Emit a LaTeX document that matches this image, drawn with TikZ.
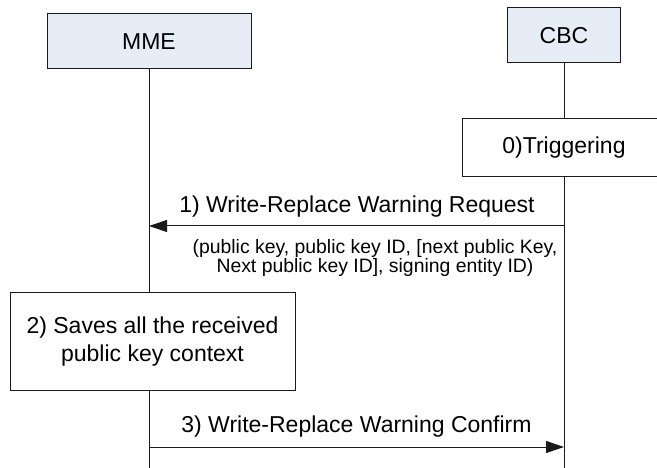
\documentclass[tikz,border=0pt]{standalone}
\usepackage{fontspec}
\setmainfont{Liberation Sans}
\usetikzlibrary{arrows.meta}
\definecolor{entfill}{HTML}{E7EDF7}
\definecolor{linecol}{HTML}{1A1A1A}
\begin{document}
\begin{tikzpicture}[x=1pt,y=-1pt,
  bigfont/.style={font=\fontsize{23}{28}\selectfont},
  smallfont/.style={font=\fontsize{19.4}{19.8}\selectfont},
  entity/.style={draw=linecol,line width=1pt,fill=entfill,inner sep=0pt,bigfont},
  stepbox/.style={draw=linecol,line width=1pt,fill=white,inner sep=0pt,align=center,bigfont},
  life/.style={draw=linecol,line width=1pt},
  msg/.style={draw=linecol,line width=1pt,-{Triangle[length=18pt,width=12pt]}},
  lbl/.style={inner sep=0pt,anchor=base,bigfont}]
\useasboundingbox (0,0) rectangle (657,468);
\clip (0,0) rectangle (657,468);
\fill[white] (0,0) rectangle (657,468);
% entities
\node[entity,minimum width=204pt,minimum height=55pt] (mme) at (149,41.5) {MME};
\node[entity,minimum width=113pt,minimum height=55pt] (cbc) at (564,35.5) {CBC};
% step boxes
\node[stepbox,minimum width=204pt,minimum height=58pt] (trig) at (564,148) {0)Triggering};
\node[stepbox,minimum width=285pt,minimum height=97pt] (save) at (152.5,341.5) {2) Saves all the received\\public key context};
% lifelines
\coordinate (mmebot) at (149,468);
\coordinate (cbcbot) at (564,468);
\draw[life] (mme.south) -- (mme.south |- save.north);
\draw[life] (mme.south |- save.south) -- (mmebot);
\draw[life] (cbc.south) -- (trig.north);
\draw[life] (trig.south) -- (cbcbot);
% messages
\coordinate (m1s) at (564,226);
\coordinate (m1e) at (149,226);
\draw[msg] (m1s) -- (m1e);
\node[lbl] (m1lbl) at (357,213) {1) Write-Replace Warning Request};
\node[smallfont,align=center,inner sep=0pt] (m1par) at (375,258) {(public key, public key ID, [next public Key,\\Next public key ID], signing entity ID)};
\coordinate (m3s) at (149,447);
\coordinate (m3e) at (564,447);
\draw[msg] (m3s) -- (m3e);
\node[lbl] (m3lbl) at (356.5,432) {3) Write-Replace Warning Confirm};
\end{tikzpicture}
\end{document}
